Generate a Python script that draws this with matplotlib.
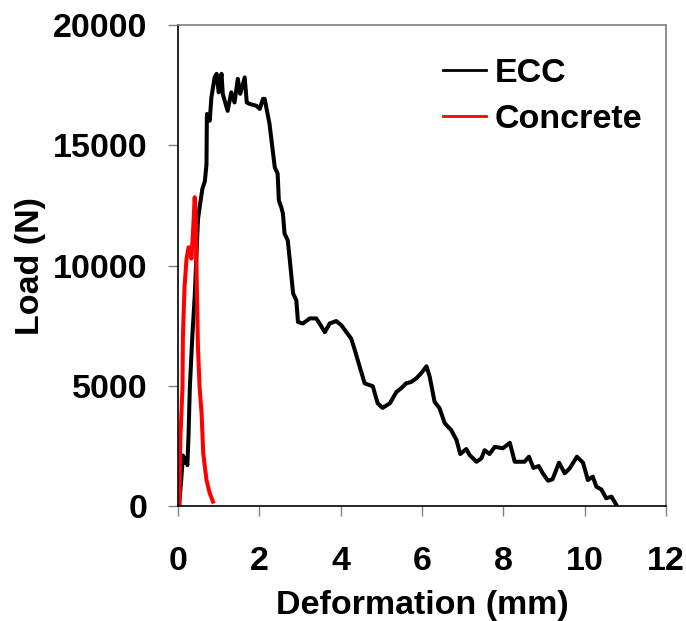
import matplotlib
matplotlib.use("Agg")
import matplotlib.pyplot as plt

plt.rcParams['font.family'] = ['Liberation Sans', 'DejaVu Sans']
plt.rcParams['font.weight'] = 'bold'

ecc_x = [0, 0.04, 0.08, 0.12, 0.165, 0.2, 0.23, 0.26, 0.29, 0.35, 0.41, 0.49, 0.53, 0.6, 0.66,
         0.70, 0.71, 0.78, 0.82, 0.90, 0.95, 1.00, 1.07, 1.10, 1.22, 1.31, 1.39, 1.47, 1.53,
         1.64, 1.69, 1.76, 1.93, 2.01, 2.09, 2.13, 2.25, 2.32, 2.38, 2.45, 2.48, 2.54, 2.58,
         2.62, 2.70, 2.75, 2.83, 2.91, 2.95, 3.07, 3.24, 3.40, 3.48, 3.61, 3.73, 3.89, 4.02,
         4.14, 4.26, 4.35, 4.47, 4.59, 4.79, 4.91, 5.03, 5.21, 5.37, 5.49, 5.61, 5.74, 5.86,
         5.98, 6.11, 6.19, 6.31, 6.43, 6.56, 6.72, 6.85, 6.94, 7.09, 7.17, 7.34, 7.46, 7.54,
         7.66, 7.79, 7.99, 8.16, 8.28, 8.52, 8.63, 8.74, 8.87, 8.97, 9.10, 9.21, 9.37, 9.51,
         9.63, 9.81, 9.96, 10.08, 10.20, 10.29, 10.41, 10.53, 10.66, 10.78]
ecc_y = [0, 300, 1100, 2100, 1800, 2000, 1700, 3000, 4900, 7000, 8700, 11900, 12400, 13200, 13500,
         14200, 16300, 16020, 16980, 17820, 17970, 17200, 17970, 17140, 16430, 17200, 16780, 17760, 17140,
         17820, 16780, 16720, 16640, 16510, 16930, 16930, 15890, 14910, 14080, 13820, 12700, 12420, 12160,
         11330, 11040, 10210, 8840, 8550, 7650, 7590, 7800, 7800, 7590, 7230, 7590, 7690, 7510,
         7230, 6960, 6470, 5780, 5100, 4980, 4270, 4080, 4270, 4740, 4900, 5100, 5160, 5310,
         5520, 5810, 5370, 4330, 4070, 3440, 3150, 2740, 2160, 2370, 2120, 1840, 1980, 2320,
         2160, 2460, 2400, 2630, 1840, 1840, 2050, 1580, 1660, 1360, 1050, 1110, 1800, 1360,
         1560, 2050, 1800, 1080, 1220, 800, 690, 320, 390, 40]

con_x = [0.04, 0.04, 0.06, 0.11, 0.12, 0.16, 0.21, 0.26, 0.33, 0.37, 0.41, 0.44, 0.45, 0.49,
         0.53, 0.58, 0.62, 0.70, 0.78, 0.86]
con_y = [0, 1080, 2880, 4950, 7030, 9100, 10290, 10760, 10290, 11450, 12840, 12010, 10350, 6610,
         4950, 3850, 2190, 1080, 530, 180]

x_ticks = [0, 2, 4, 6, 8, 10, 12]
y_ticks = [0, 5000, 10000, 15000, 20000]

FS = 24.5

fig = plt.figure(figsize=(6.86, 6.21), dpi=100)
ax = fig.add_axes([0.2595, 0.1852, 0.7113, 0.7745])

ax.plot(ecc_x, ecc_y, color='black', lw=2.9, label='ECC', solid_joinstyle='round')
ax.plot(con_x, con_y, color='#ff0000', lw=2.9, label='Concrete', solid_joinstyle='round')

ax.set_xlim(0, 12)
ax.set_ylim(0, 20000)
ax.set_xticks(x_ticks)
ax.set_yticks(y_ticks)
ax.tick_params(axis='both', direction='out', length=7, width=1, color='#808080',
               labelsize=FS)
ax.tick_params(axis='y', pad=15)
ax.tick_params(axis='x', pad=22)
for lab in ax.get_xticklabels() + ax.get_yticklabels():
    lab.set_fontweight('bold')

ax.spines['left'].set_color('black')
ax.spines['bottom'].set_color('black')
ax.spines['top'].set_color('#808080')
ax.spines['right'].set_color('#808080')
for s in ax.spines.values():
    s.set_linewidth(1.2)

ax.set_xlabel('Deformation (mm)', fontsize=FS, fontweight='bold', labelpad=9)
ax.set_ylabel('Load (N)', fontsize=FS, fontweight='bold', labelpad=5)

leg = ax.legend(loc='upper right', frameon=False, fontsize=FS, handlelength=1.25,
                handletextpad=0.25, labelspacing=0.44, borderaxespad=0, borderpad=0,
                bbox_to_anchor=(0.951, 0.932))
for t in leg.get_texts():
    t.set_fontweight('bold')
for l in leg.get_lines():
    l.set_linewidth(2.0)

fig.savefig('out.png', dpi=100)
